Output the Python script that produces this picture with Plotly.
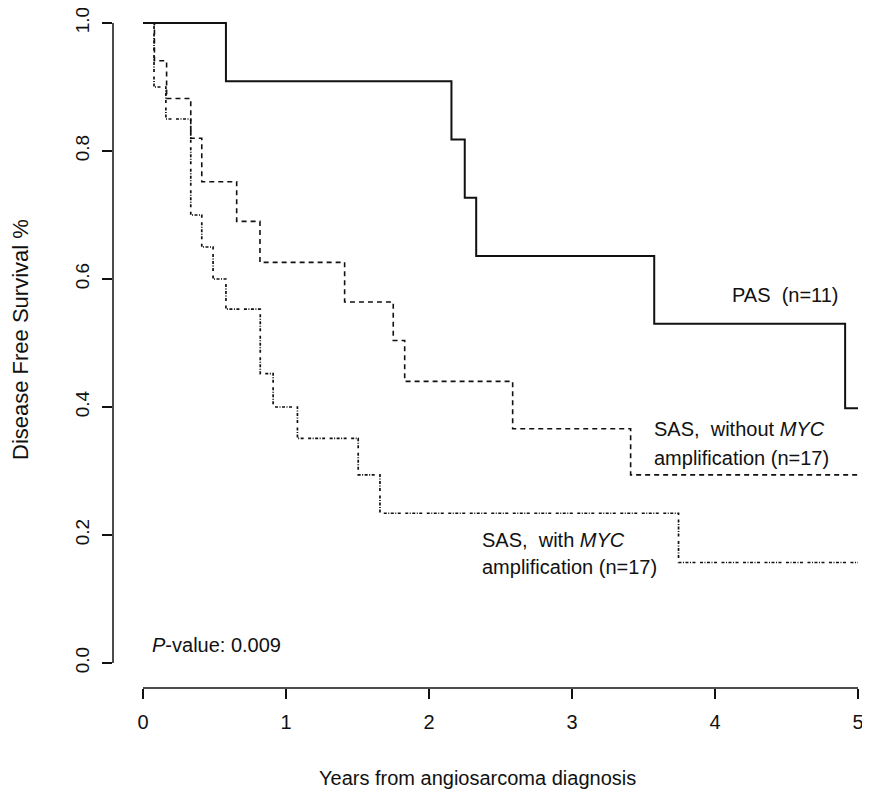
import plotly.graph_objects as go

# ---- data ----
pas_time = [0, 0.58, 2.157, 2.25, 2.33, 3.575, 4.91, 5.0]
pas_surv = [1.0, 0.909, 0.818, 0.727, 0.636, 0.530, 0.398, 0.398]

sas_nomyc_time = [0, 0.08, 0.165, 0.334, 0.411, 0.655, 0.818, 1.41, 1.75, 1.83, 2.585, 3.41, 5.0]
sas_nomyc_surv = [1.0, 0.941, 0.882, 0.820, 0.752, 0.690, 0.626, 0.564, 0.504, 0.440, 0.366, 0.294, 0.294]

sas_myc_time = [0, 0.077, 0.16, 0.334, 0.411, 0.49, 0.58, 0.82, 0.91, 1.08, 1.505, 1.657, 3.745, 5.0]
sas_myc_surv = [1.0, 0.900, 0.850, 0.700, 0.650, 0.600, 0.553, 0.452, 0.400, 0.351, 0.294, 0.234, 0.157, 0.157]

x_ticks = [0, 1, 2, 3, 4, 5]
y_ticks = [0.0, 0.2, 0.4, 0.6, 0.8, 1.0]

FONT = "Liberation Sans, Arial, sans-serif"
INK = "#111111"
FS = 20

fig = go.Figure()
fig.add_trace(go.Scatter(x=pas_time, y=pas_surv, mode="lines", line_shape="hv",
                         line=dict(color=INK, width=2), showlegend=False))
fig.add_trace(go.Scatter(x=sas_nomyc_time, y=sas_nomyc_surv, mode="lines", line_shape="hv",
                         line=dict(color=INK, width=1.6, dash="5px,4px"), showlegend=False))
fig.add_trace(go.Scatter(x=sas_myc_time, y=sas_myc_surv, mode="lines", line_shape="hv",
                         line=dict(color=INK, width=1.7,
                                   dash="3px,1.5px,1px,1.5px,3px,1.5px,1px,1.5px,3px,4.5px"),
                         showlegend=False))

# the page body has an 8px margin; work in window pixels and subtract it
OFF = 8
W, H = 870 - OFF, 801 - 2 * OFF
L = 113 - OFF
R = 0
T = 0
B = H - (688 - OFF)
px_per_x = 143.0
px_per_y = 640.0
x0_px, y0_px = 143.0 - OFF, 663.0 - OFF  # figure pixel of value 0 on each axis
x_range = [(L - x0_px) / px_per_x, (W - R - x0_px) / px_per_x]
y_range = [(y0_px - (H - B)) / px_per_y, (y0_px - T) / px_per_y]

axis_common = dict(showgrid=False, zeroline=False, showline=False, ticks="outside",
                   ticklen=10, tickwidth=1.5, tickcolor=INK, ticklabeloverflow="allow")
fig.update_xaxes(range=x_range, tickvals=x_ticks, ticklabelstandoff=6,
                 tickfont=dict(family=FONT, size=FS, color=INK), **axis_common)
fig.update_yaxes(range=y_range, tickvals=y_ticks, tickformat=".1f", tickangle=-90,
                 ticklabelstandoff=5, tickfont=dict(family=FONT, size=19, color=INK),
                 **axis_common)

# R-style axis lines spanning only the tick range
fig.add_shape(type="line", xref="x", yref="paper", x0=x_ticks[0], x1=x_ticks[-1], y0=0, y1=0,
              line=dict(color=INK, width=1.5))
fig.add_shape(type="line", xref="paper", yref="y", x0=0, x1=0, y0=y_ticks[0], y1=y_ticks[-1],
              line=dict(color=INK, width=1.5))

def note(text, x, y, xanchor="left", **kw):
    fig.add_annotation(text=text, x=x, y=y, xref="x", yref="y", xanchor=xanchor, yanchor="middle",
                       showarrow=False, font=dict(family=FONT, size=FS, color=INK), **kw)

note("PAS\u00a0\u00a0(n=11)", 4.88, 0.575, xanchor="right")
note("SAS,\u00a0\u00a0without\u00a0<i>MYC</i>", 3.557, 0.366)
note("amplification (n=17)", 3.557, 0.321)
note("SAS,\u00a0\u00a0with <i>MYC</i>", 2.357, 0.192)
note("amplification (n=17)", 2.357, 0.150)
note("<i>P</i>-value: 0.009", 0.05, 0.028)

pw = W - L - R
ph = H - T - B
fig.add_annotation(text="Disease Free Survival %", xref="paper", yref="paper",
                   x=(20 - OFF - L) / pw, y=(H - B - (340 - OFF)) / ph, textangle=-90,
                   xanchor="center", yanchor="middle", showarrow=False,
                   font=dict(family=FONT, size=22, color=INK))
fig.add_annotation(text="Years from angiosarcoma diagnosis", xref="paper", yref="paper",
                   x=(477 - OFF - L) / pw, y=(H - B - (778 - OFF)) / ph,
                   xanchor="center", yanchor="middle", showarrow=False,
                   font=dict(family=FONT, size=FS, color=INK))

fig.update_layout(width=W, height=H, margin=dict(l=L, r=R, t=T, b=B, pad=0, autoexpand=False),
                  plot_bgcolor="white", paper_bgcolor="white")

fig.write_html("out.html")
